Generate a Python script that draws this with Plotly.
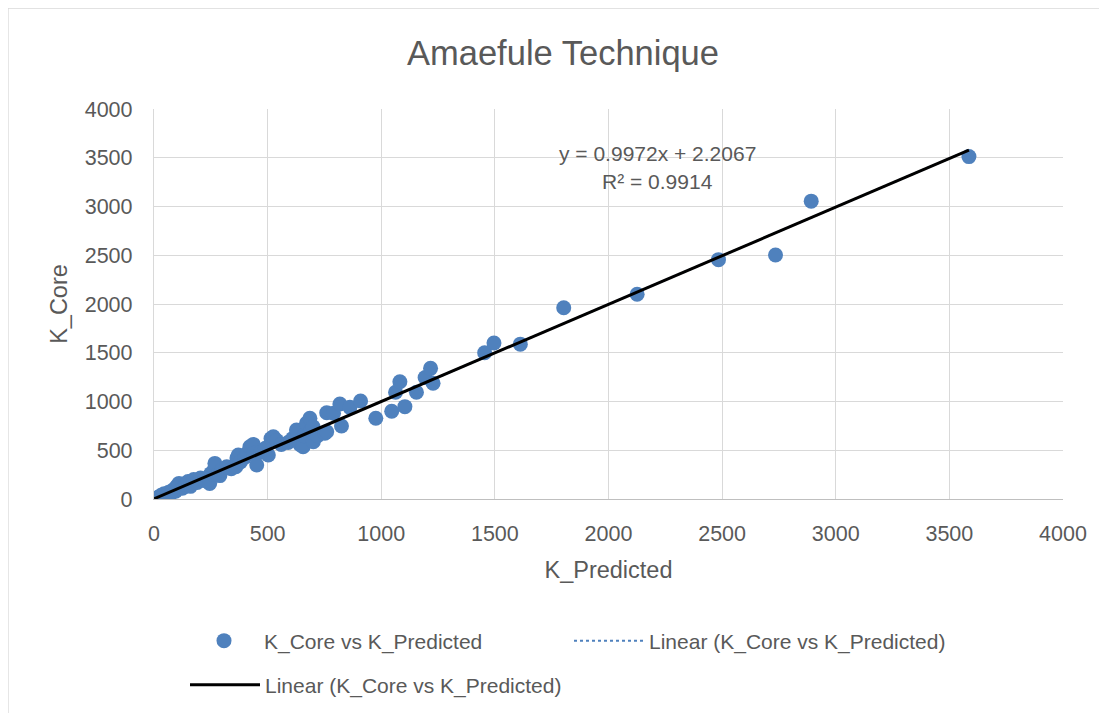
import plotly.graph_objects as go

# ---- data ----
k_predicted = [1, 3, 5, 8, 12, 18, 25, 30, 40, 45, 55, 65, 75, 85, 95, 100, 110, 125,
               140, 150, 160, 175, 190, 205, 220, 245, 250, 265, 268, 280, 290, 300,
               320, 340, 360, 365, 371, 380, 400, 410, 422, 437, 440, 452, 470, 490,
               503, 515, 525, 540, 560, 590, 610, 627, 642, 656, 660, 671, 686, 690,
               700, 701, 720, 752, 760, 760, 790, 818, 825, 862, 909, 976, 1046, 1063,
               1082, 1104, 1155, 1193, 1217, 1228, 1455, 1496, 1612, 1803, 2126, 2484,
               2735, 2892, 3586]
k_core = [2, 1, 6, 4, 10, 15, 20, 35, 30, 55, 45, 70, 60, 95, 80, 130, 160, 110,
          150, 180, 130, 200, 170, 215, 190, 160, 260, 300, 365, 250, 240, 300,
          330, 310, 331, 420, 451, 380, 430, 470, 536, 560, 470, 349, 480, 520,
          451, 620, 639, 600, 560, 580, 620, 708, 560, 536, 650, 776, 828, 700,
          741, 588, 650, 674, 885, 690, 880, 974, 749, 940, 1005, 828, 900, 1095,
          1203, 947, 1095, 1245, 1340, 1187, 1500, 1600, 1588, 1962, 2100, 2455,
          2503, 3055, 3512]

slope = 0.9972
intercept = 2.2067
r_squared = 0.9914

x_ticks = [0, 500, 1000, 1500, 2000, 2500, 3000, 3500, 4000]
y_ticks = [0, 500, 1000, 1500, 2000, 2500, 3000, 3500, 4000]

title_text = "Amaefule Technique"
x_title = "K_Predicted"
y_title = "K_Core"
series_name = "K_Core vs K_Predicted"
trend_name = "Linear (K_Core vs K_Predicted)"

# trendline endpoints from the fitted equation over the data range
x_min, x_max = min(k_predicted), max(k_predicted)
trend_x = [x_min, x_max]
trend_y = [slope * v + intercept for v in trend_x]

FONT = "Liberation Sans, Arial, sans-serif"
TXT = "#595959"
BLUE = "#4F81BD"

fig = go.Figure()
fig.add_trace(go.Scatter(
    x=k_predicted, y=k_core, mode="markers", name=series_name,
    marker=dict(color=BLUE, size=15, line=dict(width=0)),
    legend="legend",
))
fig.add_trace(go.Scatter(
    x=trend_x, y=trend_y, mode="lines", name=trend_name,
    line=dict(color=BLUE, width=2, dash="dot"),
    legend="legend",
))
fig.add_trace(go.Scatter(
    x=trend_x, y=trend_y, mode="lines", name=trend_name,
    line=dict(color="black", width=3),
    legend="legend2",
))

OFF = 8  # page offset of the figure inside the browser window
W, H = 1107, 713
# plot area in screen pixels: x 154..1063, y 109..499
L = 154 - OFF
T = 109 - OFF
R = W - (1063 - OFF)
B = H - (499 - OFF)
pw, ph = W - L - R, H - T - B

def px(xs):
    return (xs - OFF - L) / pw

def py(ys):
    return (H - B - (ys - OFF)) / ph

fig.update_layout(
    width=W, height=H,
    margin=dict(l=L, r=R, t=T, b=B),
    paper_bgcolor="white", plot_bgcolor="white",
    font=dict(family=FONT, color=TXT, size=21),
    title=dict(text=title_text, x=(563 - OFF) / W, xref="container", xanchor="center",
               y=1 - (53 - OFF) / H, yref="container", yanchor="middle",
               font=dict(size=34.5, color=TXT, family=FONT)),
    xaxis=dict(range=[0, 4000], tickvals=x_ticks, ticktext=[str(v) for v in x_ticks],
               showgrid=True, gridcolor="#d9d9d9", gridwidth=1.3,
               zeroline=False, showline=True, linecolor="#bfbfbf", linewidth=1.3,
               ticks="", ticklabelstandoff=15,
               tickfont=dict(size=21.5, color=TXT),
               title=dict(text=x_title, standoff=16, font=dict(size=23.5, color=TXT))),
    yaxis=dict(range=[0, 4000], tickvals=y_ticks, ticktext=[str(v) for v in y_ticks],
               showgrid=True, gridcolor="#d9d9d9", gridwidth=1.3,
               zeroline=False, showline=True, linecolor="#d9d9d9", linewidth=1.3,
               ticks="", ticklabelstandoff=16,
               tickfont=dict(size=21.5, color=TXT),
               title=dict(text=y_title, standoff=10, font=dict(size=23.5, color=TXT))),
    legend=dict(orientation="h", x=px(184), xanchor="left", y=py(641), yanchor="middle",
                entrywidth=300, itemwidth=70, font=dict(size=21, color=TXT),
                bgcolor="rgba(0,0,0,0)"),
    legend2=dict(orientation="h", x=px(185), xanchor="left", y=py(685), yanchor="middle",
                 itemwidth=70, font=dict(size=21, color=TXT), bgcolor="rgba(0,0,0,0)"),
    showlegend=True,
)

fig.add_annotation(
    x=px(657), y=py(153), xref="paper", yref="paper",
    text=f"y = {slope}x + {intercept}", showarrow=False,
    font=dict(size=21, color=TXT, family=FONT), xanchor="center", yanchor="middle",
)
fig.add_annotation(
    x=px(657), y=py(181), xref="paper", yref="paper",
    text=f"R² = {r_squared}", showarrow=False,
    font=dict(size=21, color=TXT, family=FONT), xanchor="center", yanchor="middle",
)

# chart-area border
fig.add_shape(type="rect", xref="paper", yref="paper",
              x0=px(8), x1=px(1104), y0=py(730), y1=py(8),
              line=dict(color="#d9d9d9", width=1.3), fillcolor="rgba(0,0,0,0)",
              layer="below")

fig.write_html("out.html")
